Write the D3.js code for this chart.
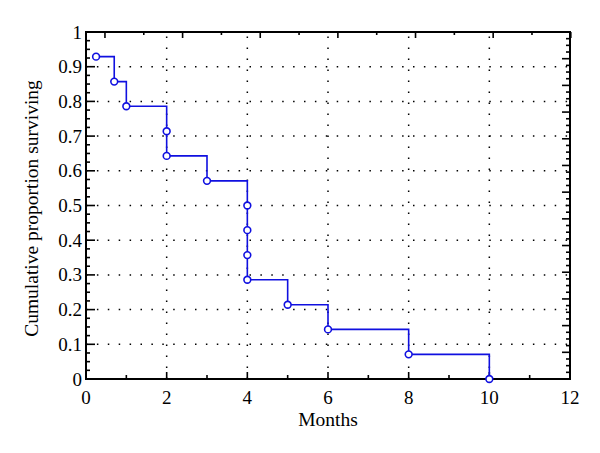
<!DOCTYPE html>
<html>
<head>
<meta charset="utf-8">
<script src="https://cdn.jsdelivr.net/npm/d3@7"></script>
<style>
  html, body { margin: 0; padding: 0; background: #fff; }
  svg { display: block; }
  text { font-family: "Liberation Serif", "DejaVu Serif", serif; fill: #000; }
</style>
</head>
<body>
<svg id="chart" width="600" height="453"></svg>
<script>
// ---- data ----
const months   = [0.25, 0.7, 1, 2, 2, 3, 4, 4, 4, 4, 5, 6, 8, 10];
const survival = [0.929, 0.857, 0.786, 0.714, 0.643, 0.571, 0.5, 0.429, 0.357, 0.286, 0.214, 0.143, 0.071, 0];
const xTicks = [0, 2, 4, 6, 8, 10, 12];
const yTicks = [0, 0.1, 0.2, 0.3, 0.4, 0.5, 0.6, 0.7, 0.8, 0.9, 1];
const xTickLabels = ["0", "2", "4", "6", "8", "10", "12"];
const yTickLabels = ["0", "0.1", "0.2", "0.3", "0.4", "0.5", "0.6", "0.7", "0.8", "0.9", "1"];
const xTitle = "Months";
const yTitle = "Cumulative proportion surviving";

// ---- layout ----
const W = 600, H = 453;
const m = { left: 86, right: 30, top: 32, bottom: 74 };
const svg = d3.select("#chart");

const x = d3.scaleLinear().domain([0, 12]).range([m.left, W - m.right]);
const y = d3.scaleLinear().domain([0, 1]).range([H - m.bottom, m.top]);

// secondary (mismatched) axes on top and right, as in the reference
const xTop = d3.scaleLinear().domain([0, 6]).range([x(0.47), x(12.02)]);
const yRight = d3.scaleLinear().domain([0, 13]).range([y(0), y(1)]);

const g = svg.append("g");

// grid (dotted)
const gridX = xTicks.filter(v => v > 0 && v < 12);
const gridY = yTicks.filter(v => v > 0 && v < 1);
g.selectAll("line.gx").data(gridX).enter().append("line")
  .attr("x1", d => x(d)).attr("x2", d => x(d))
  .attr("y1", y(0)).attr("y2", y(1))
  .attr("stroke", "#000").attr("stroke-width", 1.5)
  .attr("stroke-dasharray", "1.5,9.5");
g.selectAll("line.gy").data(gridY).enter().append("line")
  .attr("x1", x(0)).attr("x2", x(12))
  .attr("y1", d => y(d)).attr("y2", d => y(d))
  .attr("stroke", "#000").attr("stroke-width", 1.5)
  .attr("stroke-dasharray", "1.5,9.4");

// ticks helper
function tickLines(data, f, cls) {
  g.selectAll("line." + cls).data(data).enter().append("line")
    .attr("class", cls).each(function(d) {
      const c = f(d);
      d3.select(this).attr("x1", c[0]).attr("y1", c[1]).attr("x2", c[2]).attr("y2", c[3]);
    })
    .attr("stroke", "#000").attr("stroke-width", 1.6);
}

// bottom axis ticks (inward)
tickLines(xTicks, d => [x(d), y(0), x(d), y(0) - 7], "bmaj");
tickLines(d3.range(1, 12, 2), d => [x(d), y(0), x(d), y(0) - 4], "bmin");
// left axis ticks
tickLines(yTicks, d => [x(0), y(d), x(0) + 9, y(d)], "lmaj");
tickLines(d3.range(0, 1.0001, 0.025).filter(v => Math.abs(v * 10 - Math.round(v * 10)) > 1e-6),
  d => [x(0), y(d), x(0) + 4, y(d)], "lmin");
// top axis ticks
tickLines(d3.range(0, 7), d => [xTop(d), y(1), xTop(d), y(1) + 6], "tmaj");
tickLines(d3.range(0.5, 6, 1), d => [xTop(d), y(1), xTop(d), y(1) + 3], "tmin");
// right axis ticks
tickLines(d3.range(0, 14), d => [x(12), yRight(d), x(12) - 8, yRight(d)], "rmaj");
tickLines(d3.range(0, 13, 0.25).filter(v => v % 1 !== 0), d => [x(12), yRight(d), x(12) - 4, yRight(d)], "rmin");

// frame
g.append("rect")
  .attr("x", x(0)).attr("y", y(1))
  .attr("width", x(12) - x(0)).attr("height", y(0) - y(1))
  .attr("fill", "none").attr("stroke", "#000").attr("stroke-width", 2);

// tick labels
g.selectAll("text.xl").data(xTicks).enter().append("text")
  .attr("x", d => x(d)).attr("y", y(0) + 25)
  .attr("text-anchor", "middle").attr("font-size", 19)
  .text((d, i) => xTickLabels[i]);
g.selectAll("text.yl").data(yTicks).enter().append("text")
  .attr("x", x(0) - 4).attr("y", d => y(d) + 6.5)
  .attr("text-anchor", "end").attr("font-size", 19)
  .text((d, i) => yTickLabels[i]);

// axis titles
g.append("text")
  .attr("x", (x(0) + x(12)) / 2).attr("y", 426)
  .attr("text-anchor", "middle").attr("font-size", 19.5)
  .text(xTitle);
g.append("text")
  .attr("transform", `translate(38,${(y(0) + y(1)) / 2 + 3}) rotate(-90)`)
  .attr("text-anchor", "middle").attr("font-size", 19.5)
  .text(yTitle);

// step line (Kaplan-Meier)
const pts = months.map((mo, i) => [mo, survival[i]]);
const stepPts = [];
pts.forEach((p, i) => {
  if (i > 0) stepPts.push([p[0], pts[i - 1][1]]);
  stepPts.push(p);
});
const blue = "#1010e0";
g.append("path")
  .datum(stepPts)
  .attr("d", d3.line().x(d => x(d[0])).y(d => y(d[1])))
  .attr("fill", "none").attr("stroke", blue).attr("stroke-width", 1.6);

g.selectAll("circle.pt").data(pts).enter().append("circle")
  .attr("cx", d => x(d[0])).attr("cy", d => y(d[1])).attr("r", 3.4)
  .attr("fill", "#fff").attr("stroke", blue).attr("stroke-width", 1.6);
</script>
</body>
</html>
